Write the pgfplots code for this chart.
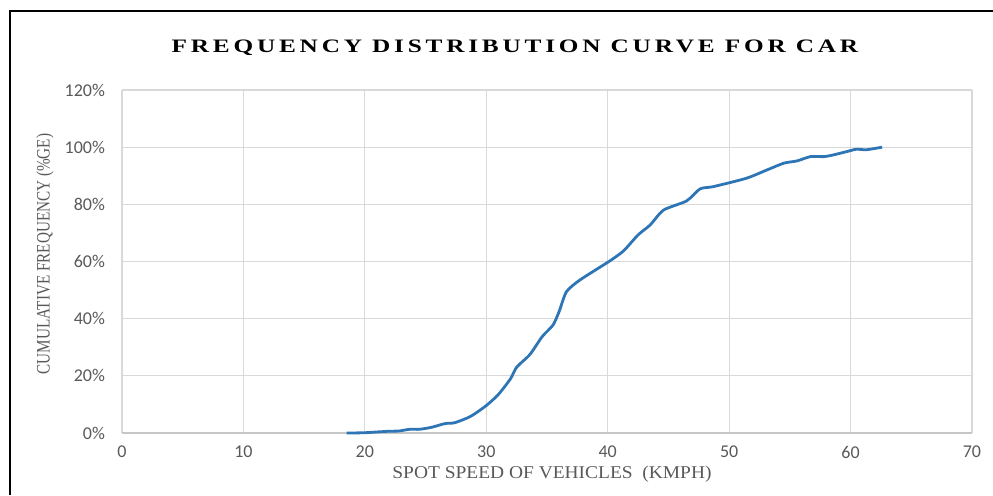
\documentclass[border=0pt]{standalone}
\usepackage{fontspec}
\setmainfont{Liberation Serif}
\newfontfamily\tickfont{Carlito}
\newfontfamily\titlefont[LetterSpace=15]{Liberation Serif}
\usepackage{pgfplots}
\pgfplotsset{compat=1.18}
\definecolor{linblue}{RGB}{46,117,182}
\definecolor{gridgray}{RGB}{217,217,217}
\definecolor{txtgray}{RGB}{89,89,89}
\begin{document}
\begin{tikzpicture}
% 1px of the reference = 0.5pt; axis origin at pixel (122,433)
\useasboundingbox (-61pt,-31pt) rectangle (435.5pt,216.5pt);
\draw[line width=1pt] (-56pt,-31pt) -- (-56pt,211pt) -- (435.5pt,211pt);
\node[font=\titlefont\bfseries\fontsize{9.5}{10}\selectfont] at (196.5pt,192.5pt)
  {\scalebox{1.33}[1]{FREQUENCY DISTRIBUTION CURVE FOR CAR}};
\node[font=\fontsize{9}{10}\selectfont, text=txtgray] at (215pt,-20.5pt)
  {\scalebox{1.08}[1]{SPOT SPEED OF VEHICLES\ \ (KMPH)}};
\node[font=\fontsize{9.5}{10}\selectfont, text=txtgray, rotate=90] at (-38.5pt,89.5pt)
  {\scalebox{0.8}[1]{CUMULATIVE FREQUENCY (\%GE)}};
\begin{axis}[
  at={(0pt,0pt)}, anchor=origin,
  scale only axis, width=425pt, height=171.5pt,
  xmin=0, xmax=70, ymin=0, ymax=120,
  xtick={0,10,...,70}, ytick={0,20,...,120},
  yticklabel={\pgfmathprintnumber{\tick}\%},
  /pgf/number format/assume math mode=true,
  tick label style={font=\tickfont\fontsize{9}{10}\selectfont, text=txtgray},
  xticklabel style={yshift=-3pt},
  yticklabel style={xshift=-5pt},
  major tick length=0pt,
  grid=major, grid style={gridgray, line width=0.6pt},
  axis line style={draw=none},
  clip=false,
]
\draw[gridgray!80!gray, line width=0.6pt] (axis cs:0,0) -- (axis cs:70,0);
\addplot[linblue, line width=1.4pt, smooth, tension=0.4] coordinates {
(18.5,0) (20.0,0.1) (21.9,0.6) (22.8,0.7) (23.7,1.3) (24.5,1.3) (25.5,2.0)
(26.6,3.3) (27.4,3.6) (28.7,5.8) (30.0,9.6) (31.0,13.5) (32.0,19.0) (32.5,23.0)
(33.6,27.5) (34.6,33.7) (35.5,37.8) (36.0,42.5) (36.6,49.4) (37.7,53.5)
(40.1,60.0) (41.3,63.7) (42.5,69.3) (43.5,72.8) (44.6,78.0) (46.5,81.2)
(47.6,85.4) (48.7,86.2) (51.4,89.1) (53.1,92.0) (54.5,94.4) (55.6,95.2)
(56.7,96.7) (57.8,96.7) (58.6,97.3) (60.0,98.8) (60.5,99.3) (61.3,99.1) (62.6,100)
};
\end{axis}
\end{tikzpicture}
\end{document}
